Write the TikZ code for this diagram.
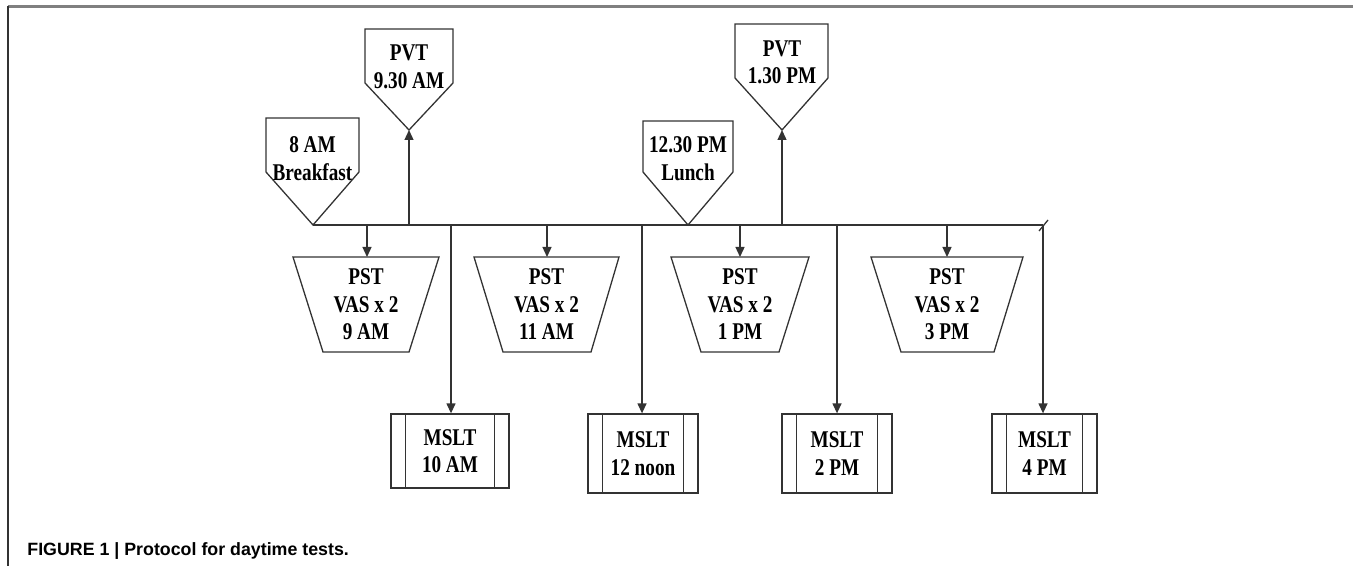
\documentclass[tikz,border=0pt]{standalone}
\usepackage{fontspec}
\setmainfont{Liberation Serif}[FakeStretch=0.8]
\newfontfamily\capfont{Liberation Sans}
\usetikzlibrary{arrows.meta,calc}
\definecolor{ln}{HTML}{333333}
\definecolor{frm}{HTML}{808080}
\tikzset{
  txt/.style={align=center,inner sep=0pt,font=\fontsize{12}{13.75}\selectfont\bfseries},
  shp/.style={draw=ln,line width=0.65pt,line join=miter},
  con/.style={draw=ln,line width=0.65pt},
  arr/.style={con,-{Triangle[length=5pt,width=4.5pt]}},
  mslt/.style={txt,draw=ln,line width=0.65pt,minimum height=37.5pt},
}
\begin{document}
\begin{tikzpicture}[x=0.5pt,y=-0.5pt]
\useasboundingbox (0,0) rectangle (1353,566);
% frame
\draw[frm,line width=1.1pt] (8,6.5) -- (1353,6.5);
\draw[ln,line width=0.8pt] (8,6) -- (8,566);
% caption
\node[anchor=base west,inner sep=0pt,font=\capfont\fontsize{8.9}{10}\selectfont\bfseries] (cap) at (27,555) {FIGURE 1 | Protocol for daytime tests.};

% pentagons (events)
\node[txt] (bf) at (312.5,158.5) {8 AM\\Breakfast};
\draw[shp] (266,118) -- (359,118) -- (359,172) -- (313,225) -- (266,172) -- cycle;
\coordinate (bftip) at (313,225);

\node[txt] (lu) at (688,158.5) {12.30 PM\\Lunch};
\draw[shp] (643,121) -- (733,121) -- (733,172) -- (688,225) -- (643,172) -- cycle;

\node[txt] (pvta) at (409,67) {PVT\\9.30 AM};
\draw[shp] (365,29) -- (453,29) -- (453,83) -- (409,130) -- (365,83) -- cycle;
\coordinate (pvtatip) at (409,130);

\node[txt] (pvtb) at (782,62.5) {PVT\\1.30 PM};
\draw[shp] (735,24) -- (828,24) -- (828,78) -- (782,130) -- (735,78) -- cycle;
\coordinate (pvtbtip) at (782,130);

% bus
\coordinate (busend) at (1043,225);
\draw[con] (bftip) -- (busend);
\draw[con] ($(busend)+(-4,6)$) -- ($(busend)+(5,-5)$);

% bus points
\coordinate (ba) at (409,225);
\coordinate (bb) at (782,225);
\coordinate (p1b) at (367,225);
\coordinate (p2b) at (547,225);
\coordinate (p3b) at (740,225);
\coordinate (p4b) at (947,225);
\coordinate (m1b) at (451,225);
\coordinate (m2b) at (642,225);
\coordinate (m3b) at (837,225);

\draw[arr] (ba) -- (pvtatip);
\draw[arr] (bb) -- (pvtbtip);

% PST trapezoids
\node[txt] (p1) at (366,304.5) {PST\\VAS x 2\\9 AM};
\draw[shp] (293,257) -- (439,257) -- (409,352) -- (323,352) -- cycle;
\coordinate (p1t) at (367,257);
\node[txt] (p2) at (546.5,304.5) {PST\\VAS x 2\\11 AM};
\draw[shp] (474,257) -- (619,257) -- (591,352) -- (503,352) -- cycle;
\coordinate (p2t) at (547,257);
\node[txt] (p3) at (740,304.5) {PST\\VAS x 2\\1 PM};
\draw[shp] (671,257) -- (809,257) -- (779,352) -- (701,352) -- cycle;
\coordinate (p3t) at (740,257);
\node[txt] (p4) at (947,304.5) {PST\\VAS x 2\\3 PM};
\draw[shp] (871,257) -- (1023,257) -- (994,352) -- (901,352) -- cycle;
\coordinate (p4t) at (947,257);

\draw[arr] (p1b) -- (p1t);
\draw[arr] (p2b) -- (p2t);
\draw[arr] (p3b) -- (p3t);
\draw[arr] (p4b) -- (p4t);

% MSLT boxes
\node[mslt,minimum width=59pt,minimum height=37pt] (m1) at (450,451) {MSLT\\10 AM};
\node[mslt,minimum width=55pt,minimum height=39.5pt] (m2) at (643,453.5) {MSLT\\12 noon};
\node[mslt,minimum width=55pt,minimum height=39.5pt] (m3) at (837,453.5) {MSLT\\2 PM};
\node[mslt,minimum width=52.5pt,minimum height=39.5pt] (m4) at (1044.5,453.5) {MSLT\\4 PM};
\foreach \m in {m1,m2,m3,m4}{
  \draw[con] ($(\m.north west)+(15,0)$) -- ($(\m.south west)+(15,0)$);
  \draw[con] ($(\m.north east)+(-15,0)$) -- ($(\m.south east)+(-15,0)$);
}
\draw[arr] (m1b) -- (m1b |- m1.north);
\draw[arr] (m2b) -- (m2b |- m2.north);
\draw[arr] (m3b) -- (m3b |- m3.north);
\draw[arr] (busend) -- (busend |- m4.north);
\end{tikzpicture}
\end{document}
